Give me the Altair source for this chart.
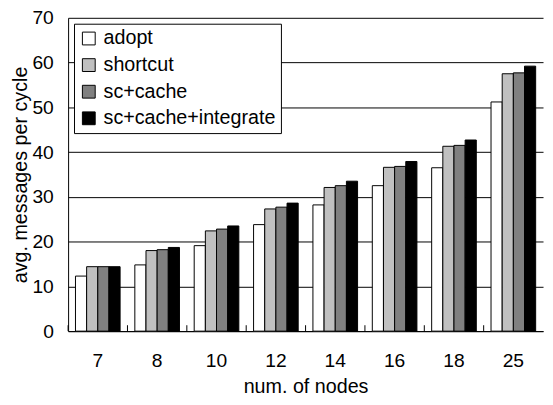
import altair as alt
import pandas as pd

nodes = ["7", "8", "10", "12", "14", "16", "18", "25"]
series = ["adopt", "shortcut", "sc+cache", "sc+cache+integrate"]
adopt = [12.3, 14.8, 19.1, 23.8, 28.2, 32.5, 36.5, 51.2]
shortcut = [14.4, 18.0, 22.4, 27.3, 32.1, 36.6, 41.3, 57.5]
sc_cache = [14.4, 18.2, 22.8, 27.7, 32.5, 36.8, 41.5, 57.7]
sc_cache_integrate = [14.4, 18.7, 23.5, 28.6, 33.5, 37.9, 42.7, 59.2]
colors = ["#ffffff", "#c0c0c0", "#808080", "#000000"]
y_ticks = [0, 10, 20, 30, 40, 50, 60, 70]

FONT = "Liberation Sans, Arial, Helvetica, sans-serif"

rows = []
for s, vals in zip(series, [adopt, shortcut, sc_cache, sc_cache_integrate]):
    for n, v in zip(nodes, vals):
        rows.append({"node": n, "series": s, "value": v})
df = pd.DataFrame(rows)
df_nodes = pd.DataFrame({"node": nodes})

x_enc = alt.X(
    "node:N",
    sort=nodes,
    scale=alt.Scale(paddingInner=0, paddingOuter=0),
    axis=alt.Axis(
        title="num. of nodes",
        labelAngle=0,
        ticks=False,
        labelPadding=21,
        titlePadding=7,
        domainColor="black",
        domainWidth=1,
        labelFontSize=19.5,
        titleFontSize=20,
    ),
)

bars = alt.Chart(df).mark_bar(stroke="black", strokeWidth=1).encode(
    x=x_enc,
    xOffset=alt.XOffset(
        "series:N", sort=series, scale=alt.Scale(paddingInner=0, paddingOuter=0.66)
    ),
    y=alt.Y(
        "value:Q",
        scale=alt.Scale(domain=[0, 70], nice=False),
        axis=alt.Axis(
            title="avg. messages per cycle",
            values=y_ticks,
            ticks=False,
            labelPadding=15,
            titlePadding=2,
            grid=True,
            gridColor="black",
            gridWidth=1,
            domainColor="black",
            domainWidth=1,
            labelFontSize=19.5,
            titleFontSize=20,
        ),
    ),
    color=alt.Color(
        "series:N",
        sort=series,
        scale=alt.Scale(domain=series, range=colors),
        legend=alt.Legend(
            title=None,
            orient="none",
            legendX=6,
            legendY=6,
            padding=5,
            strokeColor="black",
            fillColor="white",
            symbolType="square",
            symbolSize=169,
            symbolStrokeColor="black",
            symbolStrokeWidth=1,
            symbolOpacity=1,
            labelFontSize=20,
            labelFont=FONT,
            labelColor="black",
            labelOffset=5,
            labelLimit=400,
            rowPadding=7,
        ),
    ),
)

xticks = alt.Chart(df_nodes).mark_rule(color="black", strokeWidth=1).encode(
    x=alt.X("node:N", sort=nodes, bandPosition=0),
    y=alt.value(312),
    y2=alt.value(318),
)

chart = (
    alt.layer(bars, xticks)
    .properties(
        width=482,
        height=318,
        autosize=alt.AutoSizeParams(type="none"),
        padding={"left": 61, "top": 7, "right": 2, "bottom": 72},
    )
    .configure_view(strokeWidth=0)
    .configure_axis(
        labelFont=FONT,
        titleFont=FONT,
        labelColor="black",
        titleColor="black",
        titleFontWeight="normal",
    )
)

chart.save("out.html", embed_options={"renderer": "svg", "actions": False})
